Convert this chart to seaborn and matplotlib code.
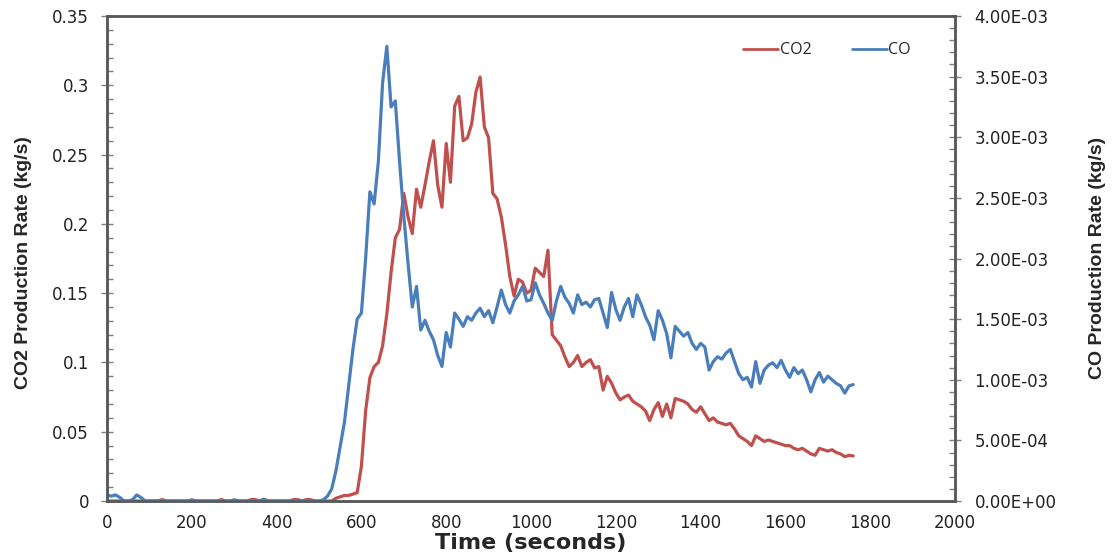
import numpy as np
import pandas as pd
import matplotlib
matplotlib.use("Agg")
import matplotlib.pyplot as plt
from matplotlib.ticker import MultipleLocator, FuncFormatter
import seaborn as sns

# ---- data ----
time_s = list(range(0, 1770, 10))

co2_rate = [
    0.0, 0.0, 0.0, 0.0, 0.0, 0.0, 0.0, 0.0, 0.0, 0.0,
    0.0, 0.0, 0.0, 0.001, 0.0, 0.0, 0.0, 0.0, 0.0, 0.0,
    0.0, 0.0, 0.0, 0.0, 0.0, 0.0, 0.0, 0.001, 0.0, 0.0,
    0.0, 0.0, 0.0, 0.0, 0.001, 0.001, 0.0, 0.001, 0.0, 0.0,
    0.0, 0.0, 0.0, 0.0, 0.001, 0.001, 0.0, 0.001, 0.001, 0.0,
    0.0, 0.0, 0.0, 0.0, 0.002, 0.003, 0.004, 0.004, 0.005, 0.006,
    0.025, 0.065, 0.089, 0.097, 0.1, 0.112, 0.135, 0.165, 0.19, 0.196,
    0.222, 0.205, 0.193, 0.225, 0.212, 0.228, 0.245, 0.26, 0.228, 0.212,
    0.258, 0.23, 0.285, 0.292, 0.26, 0.262, 0.272, 0.295, 0.306, 0.27,
    0.262, 0.222, 0.218, 0.205, 0.185, 0.162, 0.148, 0.16, 0.158, 0.15,
    0.152, 0.168, 0.165, 0.162, 0.181, 0.12, 0.116, 0.112, 0.104, 0.097,
    0.1, 0.105, 0.097, 0.1, 0.102, 0.096, 0.097, 0.08, 0.09, 0.085,
    0.078, 0.073, 0.075, 0.0765, 0.072, 0.07, 0.068, 0.065, 0.058, 0.066,
    0.071, 0.061, 0.07, 0.06, 0.074, 0.073, 0.072, 0.07, 0.066, 0.064,
    0.068, 0.063, 0.058, 0.06, 0.057, 0.056, 0.055, 0.056, 0.052, 0.047,
    0.045, 0.043, 0.04, 0.047, 0.045, 0.043, 0.044, 0.043, 0.042, 0.041,
    0.04, 0.04, 0.038, 0.037, 0.038, 0.036, 0.034, 0.033, 0.038, 0.037,
    0.036, 0.037, 0.035, 0.034, 0.032, 0.033, 0.0325,
]

# CO production rate in units of 1e-3 kg/s
co_rate_milli = [
    0.05, 0.04, 0.05, 0.03, 0.0, 0.0, 0.01, 0.05, 0.03, 0.0,
    0.0, 0.0, 0.0, 0.0, 0.0, 0.0, 0.0, 0.0, 0.0, 0.0,
    0.01, 0.0, 0.0, 0.0, 0.0, 0.0, 0.0, 0.0, 0.0, 0.0,
    0.01, 0.0, 0.0, 0.0, 0.0, 0.0, 0.0, 0.015, 0.0, 0.0,
    0.0, 0.0, 0.0, 0.0, 0.0, 0.0, 0.0, 0.0, 0.0, 0.0,
    0.0, 0.01, 0.04, 0.1, 0.25, 0.45, 0.65, 0.95, 1.25, 1.5,
    1.55, 2.0, 2.55, 2.45, 2.8, 3.45, 3.75, 3.25, 3.3, 2.8,
    2.35, 1.96, 1.6, 1.77, 1.41, 1.49, 1.4, 1.33, 1.2, 1.11,
    1.39, 1.27, 1.55, 1.5, 1.44, 1.52, 1.49, 1.55, 1.59, 1.52,
    1.57, 1.47, 1.6, 1.74, 1.62, 1.55, 1.65, 1.7, 1.77, 1.65,
    1.66, 1.8, 1.7, 1.63, 1.55, 1.49, 1.65, 1.77, 1.68, 1.63,
    1.55, 1.7, 1.62, 1.64, 1.6, 1.66, 1.67, 1.55, 1.43, 1.72,
    1.58, 1.49, 1.6, 1.67, 1.52, 1.7, 1.62, 1.52, 1.45, 1.33,
    1.57, 1.49, 1.38, 1.18, 1.44, 1.4, 1.36, 1.39, 1.3, 1.25,
    1.3, 1.27, 1.08, 1.15, 1.19, 1.17, 1.22, 1.25, 1.15, 1.05,
    1.0, 1.02, 0.94, 1.15, 0.97, 1.08, 1.12, 1.14, 1.1, 1.16,
    1.08, 1.02, 1.1, 1.05, 1.08, 1.0, 0.9, 1.0, 1.06, 0.98,
    1.03, 1.0, 0.97, 0.95, 0.89, 0.95, 0.96,
]

series_labels = ["CO2", "CO"]
x_ticks = [0, 200, 400, 600, 800, 1000, 1200, 1400, 1600, 1800, 2000]

co_rate = [v * 1e-3 for v in co_rate_milli]
df = pd.DataFrame({"time": time_s, "co2": co2_rate, "co": co_rate})

# ---- style ----
sns.set_style("white")
plt.rcParams["font.family"] = ["DejaVu Sans"]

red = "#C0504D"
blue = "#4A7EBB"
spine_col = "#595959"
tick_font = {"family": ["DejaVu Sans"], "size": 12}

fig = plt.figure(figsize=(11.17, 5.58), dpi=100)
ax = fig.add_axes([107 / 1117, 1 - 501 / 558, (955 - 107) / 1117, (501 - 16) / 558])
ax2 = ax.twinx()

sns.lineplot(data=df, x="time", y="co2", ax=ax, color=red, linewidth=2.3,
             label=series_labels[0], legend=False)
sns.lineplot(data=df, x="time", y="co", ax=ax2, color=blue, linewidth=2.3,
             label=series_labels[1], legend=False)
ax2.set_zorder(ax.get_zorder() + 1)
ax2.patch.set_visible(False)

ax.set_xlim(0, 2000)
ax.set_ylim(0, 0.35)
ax2.set_ylim(0, 0.004)

ax.set_xticks(x_ticks)
ax.xaxis.set_minor_locator(MultipleLocator(40))
ax.yaxis.set_major_locator(MultipleLocator(0.05))
ax.yaxis.set_minor_locator(MultipleLocator(0.01))
ax2.yaxis.set_major_locator(MultipleLocator(0.0005))
ax2.yaxis.set_minor_locator(MultipleLocator(0.0001))

ax.yaxis.set_major_formatter(FuncFormatter(lambda v, p: f"{v:g}" if abs(v) > 1e-12 else "0"))
ax2.yaxis.set_major_formatter(FuncFormatter(lambda v, p: f"{v:.2E}"))

for a in (ax, ax2):
    for s in a.spines.values():
        s.set_color(spine_col)
        s.set_linewidth(1.8)
    a.grid(False)

ax.tick_params(axis="both", which="major", direction="inout", length=8, width=1,
               color="#7f7f7f", labelsize=12, labelcolor="#222222")
ax.tick_params(axis="both", which="minor", direction="in", length=4, width=1, color="#7f7f7f")
ax.tick_params(axis="x", which="major", pad=5)
ax.tick_params(axis="y", which="major", pad=9)
ax.tick_params(axis="y", which="both", right=False)
ax2.tick_params(axis="y", which="major", direction="inout", length=8, width=1,
                color="#7f7f7f", labelsize=12, labelcolor="#222222", pad=10)
ax2.tick_params(axis="y", which="minor", direction="in", length=4, width=1, color="#7f7f7f")

ax.set_xlabel("Time (seconds)", fontsize=16, fontweight="bold", labelpad=0,
              family=["DejaVu Sans"])
ax.xaxis.set_label_coords(0.5, (501 - 543) / 485)
ax.xaxis.label.set_verticalalignment("center")

ax.set_ylabel("CO2 Production Rate (kg/s)", fontsize=14, fontweight="bold",
              family=["Liberation Sans", "DejaVu Sans"])
ax.yaxis.label.set_verticalalignment("center")
ax.yaxis.set_label_coords((24 - 107) / 848, (501 - 263) / 485)

ax2.set_ylabel("CO Production Rate (kg/s)", fontsize=14, fontweight="bold",
               family=["Liberation Sans", "DejaVu Sans"])
ax2.yaxis.label.set_verticalalignment("center")
ax2.yaxis.set_label_coords((1097 - 107) / 848, (501 - 258) / 485)

h1, l1 = ax.get_legend_handles_labels()
h2, l2 = ax2.get_legend_handles_labels()
leg = ax2.legend(h1 + h2, l1 + l2, loc="upper right", bbox_to_anchor=(0.965, 0.975),
                 ncol=2, frameon=False, handlelength=2.2,
                 handletextpad=0.1, columnspacing=2.5,
                 prop={"family": ["Open Sans", "DejaVu Sans"], "size": 11.5})
for line in leg.get_lines():
    line.set_linewidth(2)

fig.savefig("out.png", dpi=100)
